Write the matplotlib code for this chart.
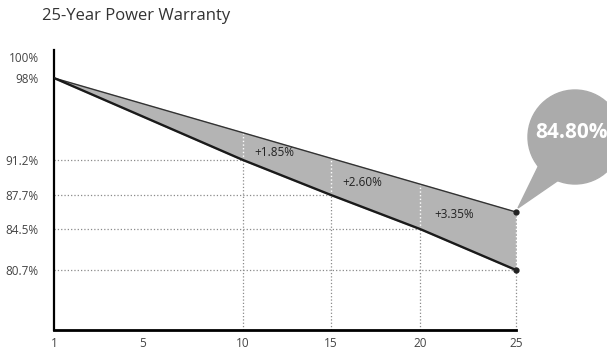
import numpy as np
import matplotlib.pyplot as plt
from matplotlib.patches import Ellipse, Polygon

# data
years = [1, 10, 15, 20, 25]
linear_warranty = [98.0, 93.46, 91.34, 88.79, 86.1]    # as drawn in the picture
standard_warranty = [98.0, 91.2, 87.7, 84.5, 80.7]
gain_labels = ["+1.85%", "+2.60%", "+3.35%"]
gain_pos = [(11.8, 91.86), (16.74, 88.9), (21.77, 85.9)]
ytick_vals = [100, 98, 91.2, 87.7, 84.5, 80.7]
ytick_labels = ["100%", "98%", "91.2%", "87.7%", "84.5%", "80.7%"]
xtick_vals = [1, 5, 10, 15, 20, 25]
end_value_label = "84.80%"

# the original chart is not drawn to a linear scale: piecewise mappings
x_knots = np.array([1, 5, 10, 15, 20, 25])
x_px = np.array([0, 89, 189, 277, 366, 462])
y_knots = np.array([75.15, 80.7, 84.5, 87.7, 91.2, 98, 100, 100.7])
y_px = np.array([0, 60, 101, 135, 170, 252, 273, 280])

def fx(v):
    return np.interp(v, x_knots, x_px)
def fx_inv(p):
    return np.interp(p, x_px, x_knots)
def fy(v):
    return np.interp(v, y_knots, y_px)
def fy_inv(p):
    return np.interp(p, y_px, y_knots)

plt.rcParams['font.family'] = ['Open Sans', 'DejaVu Sans']

fig = plt.figure(figsize=(6.07, 3.57), dpi=100)
ax = fig.add_axes([54/607, 1-330/357, 462/607, 280/357])
ax.set_xscale('function', functions=(fx, fx_inv))
ax.set_yscale('function', functions=(fy, fy_inv))
ax.set_xlim(1, 25)
ax.set_ylim(75.15, 100.7)

# shaded band between the two guarantees
ax.fill_between(years, standard_warranty, linear_warranty, color='#b4b4b4', zorder=1)
ax.plot(years, linear_warranty, color='#333333', lw=1.0, zorder=3)
ax.plot(years, standard_warranty, color='#1a1a1a', lw=1.7, zorder=3)

# dotted guide lines
for x, lo, hi in zip(years[1:], standard_warranty[1:], linear_warranty[1:]):
    ax.plot([1, x], [lo, lo], ls=':', color='#8a8a8a', lw=0.9, zorder=2)
    ax.plot([x, x], [75.15, lo], ls=':', color='#8a8a8a', lw=0.9, zorder=2, clip_on=False)
    ax.plot([x, x], [lo, hi], ls=':', color='white', lw=1.0, zorder=2, clip_on=False)

ax.plot([25, 25], [standard_warranty[-1], linear_warranty[-1]], 'o',
        color='#222222', ms=3.5, zorder=4, clip_on=False)

for t, (x, y) in zip(gain_labels, gain_pos):
    ax.text(x, y, t, fontsize=8.5, color='#222222', ha='center', va='center', zorder=5)

ax.set_xticks(xtick_vals)
ax.set_xticklabels([str(v) for v in xtick_vals])
ax.set_yticks(ytick_vals)
ax.set_yticklabels(ytick_labels)
ax.minorticks_off()
ax.tick_params(length=0, labelsize=8.5, colors='#444444')
ax.tick_params(axis='x', pad=5)
ax.tick_params(axis='y', pad=11)
ax.spines['top'].set_visible(False)
ax.spines['right'].set_visible(False)
ax.spines['left'].set_linewidth(1.6)
ax.spines['bottom'].set_linewidth(2.0)

# speech bubble
bubble = Ellipse((575/607, 1-137/357), 94/607, 94/357, transform=fig.transFigure,
                 color='#ababab', clip_on=False)
tail = Polygon([(540/607, 1-163/357), (563/607, 1-177/357), (518/607, 1-208/357)],
               closed=True, transform=fig.transFigure, color='#ababab', clip_on=False)
fig.patches.extend([bubble, tail])
fig.text(571/607, 1-132/357, end_value_label, fontsize=15, fontweight='bold',
         color='white', ha='center', va='center')

fig.text(42/607, 1-16/357, "25-Year Power Warranty", fontsize=12, color='#333333',
         ha='left', va='center')

plt.savefig("out.png", dpi=100)
